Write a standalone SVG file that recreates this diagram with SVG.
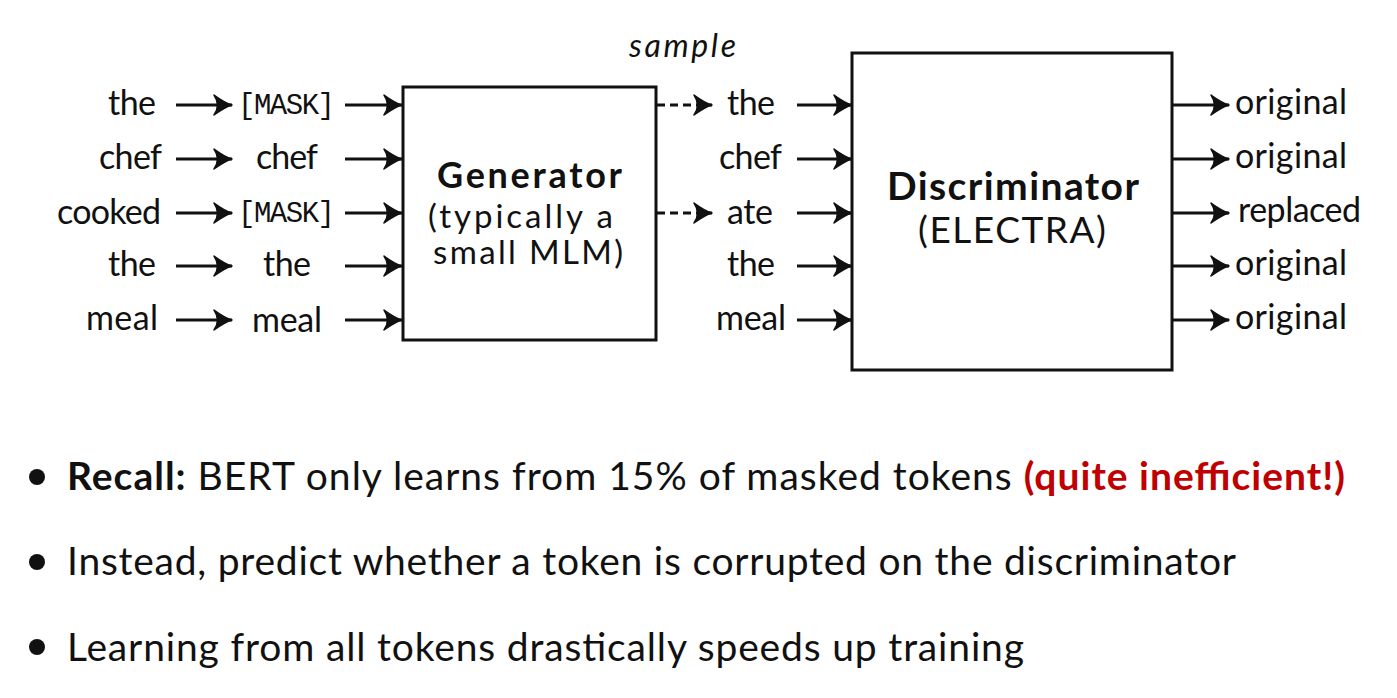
<svg xmlns="http://www.w3.org/2000/svg" width="1397" height="698" viewBox="0 0 1397 698">
<style>
.w{font-family:Lato,"Liberation Sans",sans-serif;font-size:34px;fill:#111}
.m{font-family:"Liberation Mono","DejaVu Sans Mono",monospace;font-size:29px;fill:#111}
.b{font-family:Lato,"Liberation Sans",sans-serif;font-size:36px;font-weight:bold;fill:#111}
.s{font-family:Lato,"Liberation Sans",sans-serif;font-size:33px;fill:#111}
.bl{font-family:Lato,"Liberation Sans",sans-serif;font-size:39px;fill:#111}
.box{fill:none;stroke:#111;stroke-width:3}
.a{stroke:#111;stroke-width:3;fill:none}
.d{stroke:#111;stroke-width:3;fill:none;stroke-dasharray:8 5}
</style>
<defs>
<marker id="ah" markerUnits="userSpaceOnUse" markerWidth="24" markerHeight="24" viewBox="-20 -12 22 24" refX="0" refY="0" orient="auto">
<path d="M-18,-10 Q-7,-2 0,0 Q-7,2 -18,10 Q-11,0 -18,-10 Z" fill="#111" stroke="#111" stroke-width="1.5" stroke-linejoin="round"/>
</marker>
</defs>
<g id="connectors">
<line class="a" x1="176" y1="105" x2="232" y2="105" marker-end="url(#ah)"/>
<line class="a" x1="176" y1="159" x2="232" y2="159" marker-end="url(#ah)"/>
<line class="a" x1="176" y1="213" x2="232" y2="213" marker-end="url(#ah)"/>
<line class="a" x1="176" y1="266" x2="232" y2="266" marker-end="url(#ah)"/>
<line class="a" x1="176" y1="320" x2="232" y2="320" marker-end="url(#ah)"/>
<line class="a" x1="345" y1="105" x2="402" y2="105" marker-end="url(#ah)"/>
<line class="a" x1="345" y1="159" x2="402" y2="159" marker-end="url(#ah)"/>
<line class="a" x1="345" y1="213" x2="402" y2="213" marker-end="url(#ah)"/>
<line class="a" x1="345" y1="266" x2="402" y2="266" marker-end="url(#ah)"/>
<line class="a" x1="345" y1="320" x2="402" y2="320" marker-end="url(#ah)"/>
<line class="d" x1="657" y1="105" x2="712" y2="105" marker-end="url(#ah)"/>
<line class="d" x1="657" y1="213" x2="712" y2="213" marker-end="url(#ah)"/>
<line class="a" x1="797" y1="105" x2="852" y2="105" marker-end="url(#ah)"/>
<line class="a" x1="797" y1="159" x2="852" y2="159" marker-end="url(#ah)"/>
<line class="a" x1="797" y1="213" x2="852" y2="213" marker-end="url(#ah)"/>
<line class="a" x1="797" y1="266" x2="852" y2="266" marker-end="url(#ah)"/>
<line class="a" x1="797" y1="320" x2="852" y2="320" marker-end="url(#ah)"/>
<line class="a" x1="1173" y1="105" x2="1229" y2="105" marker-end="url(#ah)"/>
<line class="a" x1="1173" y1="159" x2="1229" y2="159" marker-end="url(#ah)"/>
<line class="a" x1="1173" y1="213" x2="1229" y2="213" marker-end="url(#ah)"/>
<line class="a" x1="1173" y1="266" x2="1229" y2="266" marker-end="url(#ah)"/>
<line class="a" x1="1173" y1="320" x2="1229" y2="320" marker-end="url(#ah)"/>
</g>
<g id="input-tokens" class="w">
<text x="108" y="115" textLength="48">the</text>
<text x="99" y="169" textLength="63">chef</text>
<text x="57" y="224" textLength="104">cooked</text>
<text x="108" y="276" textLength="48">the</text>
<text x="86" y="330" textLength="72">meal</text>
</g>
<g id="masked-tokens">
<text class="m" x="238" y="114" textLength="97">[MASK]</text>
<text class="w" x="256" y="169" textLength="62">chef</text>
<text class="m" x="238" y="222" textLength="97">[MASK]</text>
<text class="w" x="263" y="276" textLength="48">the</text>
<text class="w" x="252" y="332" textLength="70">meal</text>
</g>
<g id="generator">
<rect class="box" x="403" y="87" width="253" height="253"/>
<text class="b" x="437" y="188" textLength="185">Generator</text>
<text class="s" x="428" y="228" textLength="185">(typically a</text>
<text class="s" x="433" y="264" textLength="190">small MLM)</text>
</g>
<text id="sample-label" x="629" y="57" textLength="107" style="font-family:Lato,'Liberation Sans',sans-serif;font-size:32px;font-style:italic;fill:#111">sample</text>
<g id="sampled-tokens" class="w">
<text x="727" y="115" textLength="48">the</text>
<text x="719" y="169" textLength="63">chef</text>
<text x="727" y="224" textLength="46">ate</text>
<text x="727" y="276" textLength="48">the</text>
<text x="716" y="330" textLength="70">meal</text>
</g>
<g id="discriminator">
<rect class="box" x="852" y="53" width="320" height="317"/>
<text class="b" x="887" y="200" textLength="252" style="font-size:39px">Discriminator</text>
<text class="s" x="918" y="243" textLength="188" style="font-size:37px">(ELECTRA)</text>
</g>
<g id="outputs" class="w">
<text x="1235" y="114" textLength="112">original</text>
<text x="1235" y="168" textLength="112">original</text>
<text x="1238" y="222" textLength="123">replaced</text>
<text x="1235" y="275" textLength="112">original</text>
<text x="1235" y="329" textLength="112">original</text>
</g>
<g id="bullets" class="bl">
<circle cx="37" cy="477" r="8" fill="#111"/>
<circle cx="37" cy="562" r="8" fill="#111"/>
<circle cx="37" cy="647" r="8" fill="#111"/>
<text x="67" y="490" textLength="1278"><tspan font-weight="bold">Recall:</tspan> BERT only learns from 15% of masked tokens <tspan font-weight="bold" fill="#C00000">(quite inefficient!)</tspan></text>
<text x="67" y="575" textLength="1169">Instead, predict whether a token is corrupted on the discriminator</text>
<text x="67" y="661" textLength="957">Learning from all tokens drastically speeds up training</text>
</g>
</svg>
